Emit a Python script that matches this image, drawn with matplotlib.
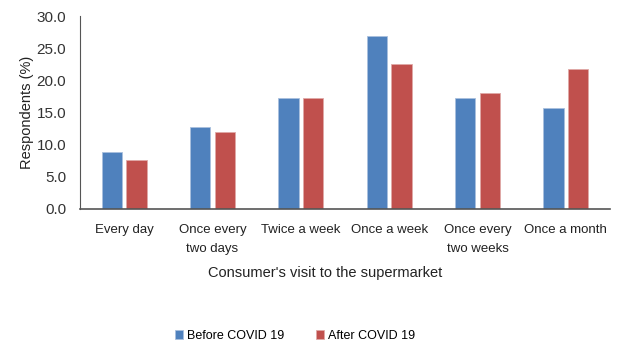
import numpy as np
import matplotlib
matplotlib.use("Agg")
import matplotlib.pyplot as plt

plt.rcParams['font.family'] = ['Liberation Sans', 'DejaVu Sans']

categories = ["Every day", "Once every\ntwo days", "Twice a week", "Once a week",
              "Once every\ntwo weeks", "Once a month"]
before = [8.9, 12.7, 17.2, 26.9, 17.2, 15.7]
after = [7.6, 11.9, 17.2, 22.5, 18.0, 21.7]
yticks = [0, 5, 10, 15, 20, 25, 30]

fig = plt.figure(figsize=(6.18, 3.47), dpi=100)
ax = fig.add_axes([80/618, 1-209/347, 530/618, 193/347])

x = np.arange(len(categories))
w = 0.23
ax.bar(x - 0.14, before, w, color="#4F81BD", edgecolor="#a9c0de", linewidth=0.6, label="Before COVID 19")
ax.bar(x + 0.14, after, w, color="#C0504D", edgecolor="#e0a9a7", linewidth=0.6, label="After COVID 19")

ax.set_xlim(-0.5, len(categories) - 0.5)
ax.set_ylim(0, 30)
ax.set_yticks(yticks)
ax.set_yticklabels([f"{v:.1f}" for v in yticks], fontsize=11, color="#333333")
ax.set_xticks(x)
ax.set_xticklabels(categories, fontsize=9.5, color="#222222", linespacing=1.7)
ax.tick_params(axis="both", length=0)
ax.tick_params(axis="y", pad=10)
ax.tick_params(axis="x", pad=11)
for s in ["top", "right"]:
    ax.spines[s].set_visible(False)
ax.spines["left"].set_color("#555555")
ax.spines["bottom"].set_color("#555555")
ax.spines["bottom"].set_linewidth(1.2)

ax.set_ylabel("Respondents (%)", fontsize=10.5, color="#222222")
ax.yaxis.set_label_coords((27 - 80) / 530, 0.5)
ax.yaxis.label.set_va("center")
ax.set_xlabel("Consumer's visit to the supermarket", fontsize=10.5, color="#222222")
ax.xaxis.set_label_coords((325 - 80) / 530, -(273 - 209) / 193)
ax.xaxis.label.set_va("center")

fig.legend(loc="center", bbox_to_anchor=(295/618, 1-336/347), ncol=2, frameon=False,
           fontsize=9, handlelength=0.7, handleheight=0.7, handletextpad=0.3, columnspacing=2.5)

fig.savefig("out.png", dpi=100)
